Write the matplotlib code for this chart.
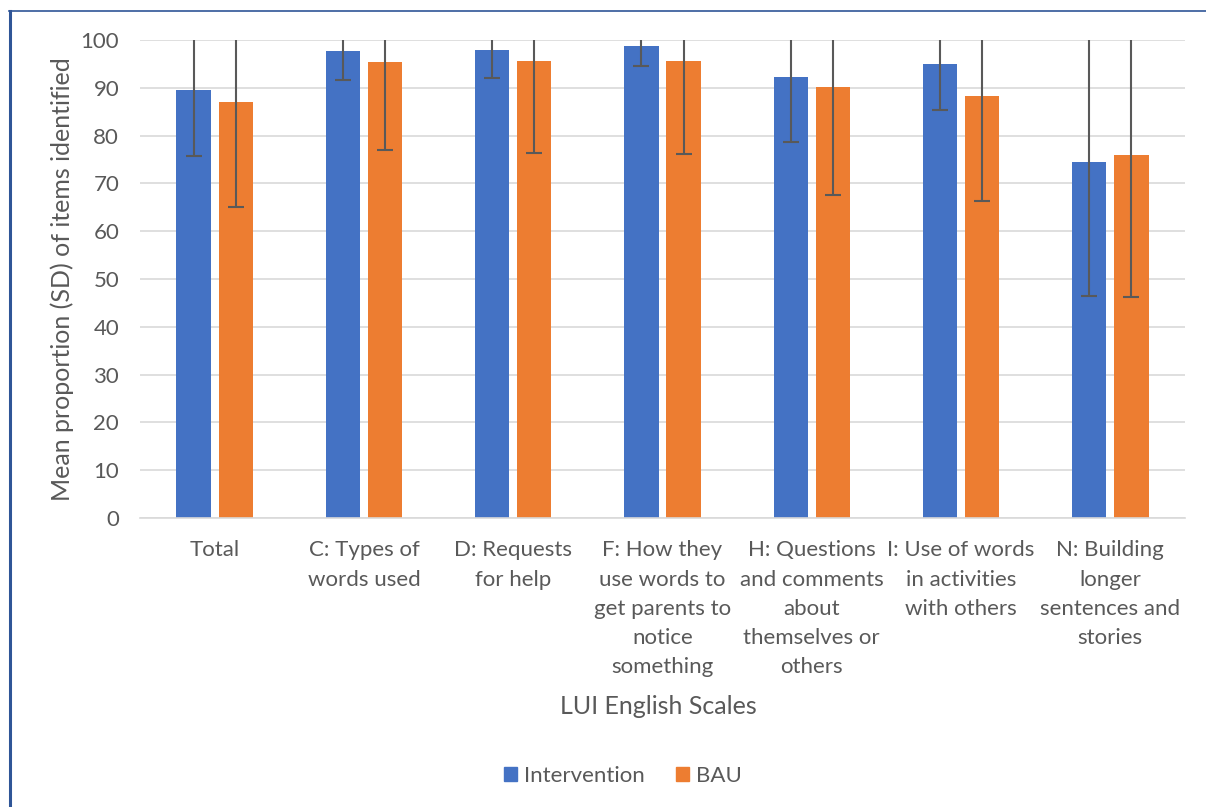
import matplotlib
matplotlib.use("Agg")
import matplotlib.pyplot as plt
import numpy as np
from matplotlib.lines import Line2D
from matplotlib.patches import Patch

plt.rcParams['font.family'] = ['Lato', 'DejaVu Sans']

categories = ["Total", "C: Types of\nwords used", "D: Requests\nfor help",
              "F: How they\nuse words to\nget parents to\nnotice\nsomething",
              "H: Questions\nand comments\nabout\nthemselves or\nothers",
              "I: Use of words\nin activities\nwith others",
              "N: Building\nlonger\nsentences and\nstories"]
intervention = [89.5, 97.7, 98.0, 98.8, 92.2, 95.0, 74.5]
intervention_sd = [13.8, 6.1, 5.9, 4.2, 13.5, 9.7, 28.0]
bau = [87.0, 95.4, 95.7, 95.7, 90.1, 88.3, 76.0]
bau_sd = [22.0, 18.5, 19.3, 19.5, 22.6, 21.9, 29.7]
yticks = list(range(0, 101, 10))

W, H = 1206, 807
fig = plt.figure(figsize=(W/100, H/100), dpi=100)
ax = fig.add_axes([140/W, 1-518/H, (1185-140)/W, (518-40)/H])

text_c = '#595959'
blue = '#4472C4'
orange = '#ED7D31'

x = np.arange(len(categories))
bw = 0.23
off = 0.141
ax.bar(x - off, intervention, bw, color=blue, zorder=2)
ax.bar(x + off, bau, bw, color=orange, zorder=2)
ax.errorbar(x - off, intervention, yerr=intervention_sd, fmt='none',
            ecolor='#595959', elinewidth=1.5, capsize=5.5, capthick=1.5, zorder=3)
ax.errorbar(x + off, bau, yerr=bau_sd, fmt='none',
            ecolor='#595959', elinewidth=1.5, capsize=5.5, capthick=1.5, zorder=3)

ax.set_xlim(-0.5, len(categories) - 0.5)
ax.set_ylim(0, 100)
ax.set_yticks(yticks)
ax.set_yticklabels([str(v) for v in yticks], fontsize=16, color=text_c)
ax.set_xticks(x)
ax.set_xticklabels(categories, fontsize=16, color=text_c, linespacing=1.58,
                   va='top')
ax.tick_params(axis='both', length=0)
ax.tick_params(axis='y', pad=15)
ax.tick_params(axis='x', pad=16)
ax.grid(axis='y', color='#D9D9D9', linewidth=1.2, zorder=0)
for s in ['top', 'right', 'left']:
    ax.spines[s].set_visible(False)
ax.spines['bottom'].set_color('#D9D9D9')
ax.spines['bottom'].set_linewidth(1.2)

fig.text(62/W, 1-279/H, "Mean proportion (SD) of items identified", rotation=90,
         ha='center', va='center', fontsize=18, color=text_c)
fig.text(658/W, 1-706/H, "LUI English Scales", ha='center', va='center',
         fontsize=18, color=text_c)

handles = [Patch(color=blue, label='Intervention'), Patch(color=orange, label='BAU')]
fig.legend(handles=handles, loc='center', bbox_to_anchor=(623/W, 1-776/H), ncol=2,
           frameon=False, fontsize=16, labelcolor=text_c, handlelength=0.6,
           handleheight=0.6, handletextpad=0.3, columnspacing=1.4)

# outer border
fig.add_artist(Line2D([9.5/W, 9.5/W], [0, 1-11/H], color='#2F5597', lw=2.2,
                      transform=fig.transFigure))
fig.add_artist(Line2D([9/W, 1], [1-11/H, 1-11/H], color='#2F5597', lw=1.2,
                      transform=fig.transFigure))

fig.savefig('out.png', dpi=100)
